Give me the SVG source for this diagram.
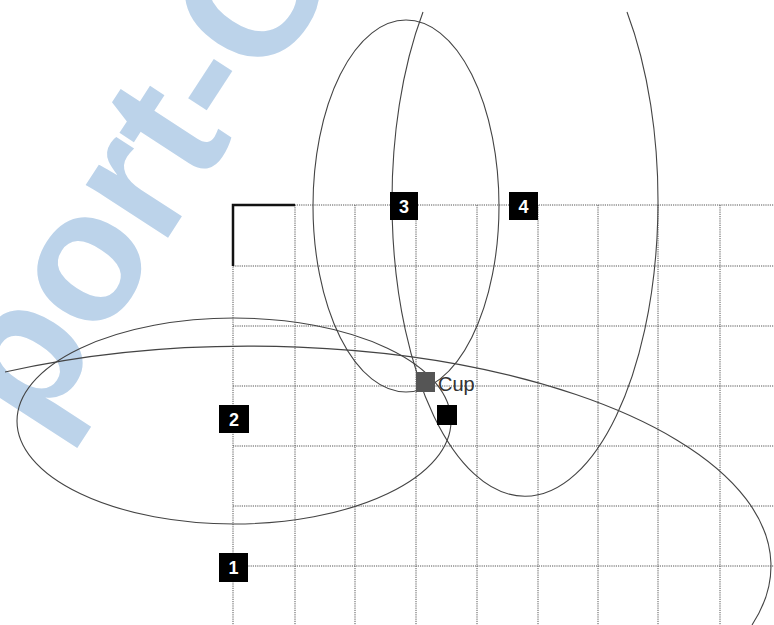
<svg xmlns="http://www.w3.org/2000/svg" width="774" height="625" viewBox="0 0 774 625">
<style>
.wm{font-family:"Liberation Sans",Arial,sans-serif;font-weight:bold;fill:#bcd3ea}
.grid line{stroke:#555;stroke-width:1;stroke-dasharray:1.2 1}
.curve{fill:none;stroke:#444;stroke-width:1.1}
.box{fill:#000}
.num{font-family:"Liberation Sans",Arial,sans-serif;font-size:18px;font-weight:bold;fill:#fff;text-anchor:middle}
.lbl{font-family:"Liberation Sans",Arial,sans-serif;font-size:20px;fill:#333}
</style>
<rect width="774" height="625" fill="#fff"/>
<text class="wm" font-size="185" transform="translate(38,438) rotate(-57)">port-C</text>
<g class="grid">
<line x1="233" y1="205" x2="233" y2="625"/>
<line x1="295" y1="205" x2="295" y2="625"/>
<line x1="355" y1="205" x2="355" y2="625"/>
<line x1="416" y1="205" x2="416" y2="625"/>
<line x1="477" y1="205" x2="477" y2="625"/>
<line x1="538" y1="205" x2="538" y2="625"/>
<line x1="598" y1="205" x2="598" y2="625"/>
<line x1="658" y1="205" x2="658" y2="625"/>
<line x1="720" y1="205" x2="720" y2="625"/>
<line x1="233" y1="205" x2="774" y2="205"/>
<line x1="233" y1="266" x2="774" y2="266"/>
<line x1="233" y1="326" x2="774" y2="326"/>
<line x1="233" y1="386" x2="774" y2="386"/>
<line x1="233" y1="446" x2="774" y2="446"/>
<line x1="233" y1="506" x2="774" y2="506"/>
<line x1="233" y1="566" x2="774" y2="566"/>
</g>
<path d="M233 266 V205 H295" fill="none" stroke="#111" stroke-width="2.5"/>
<g id="connectors">
<path class="curve" d="M5 372 A521 220 0 0 1 752 625"/>
<ellipse class="curve" cx="234" cy="421" rx="217" ry="103"/>
<ellipse class="curve" cx="406" cy="206" rx="93" ry="186"/>
<path class="curve" d="M423 12 A133 295 0 1 0 627 12"/>
</g>
<g id="node1"><rect class="box" x="219" y="553" width="29" height="29"/><text class="num" x="233.5" y="574">1</text></g>
<g id="node2"><rect class="box" x="219" y="405" width="30" height="28"/><text class="num" x="234" y="426">2</text></g>
<g id="node3"><rect class="box" x="390" y="192" width="28" height="28"/><text class="num" x="404" y="213">3</text></g>
<g id="node4"><rect class="box" x="509" y="192" width="29" height="28"/><text class="num" x="523.5" y="213">4</text></g>
<g id="cup"><rect x="416" y="372" width="19" height="20" fill="#555"/><text class="lbl" x="438" y="391">Cup</text></g>
<g id="node5"><rect class="box" x="437" y="405" width="20" height="20"/></g>
</svg>
